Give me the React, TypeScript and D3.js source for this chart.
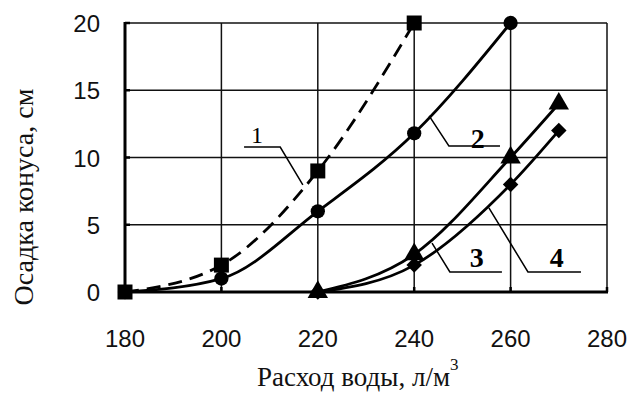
import React, { useEffect, useRef } from "react";
import * as d3 from "d3";

// water consumption, l/m3
const waterX = [180, 200, 220, 240, 260, 270];

// cone slump, cm, per curve
const curve1 = [
  { x: 180, y: 0 },
  { x: 200, y: 2 },
  { x: 220, y: 9 },
  { x: 240, y: 20 },
];
const curve2 = [
  { x: 180, y: 0 },
  { x: 200, y: 1 },
  { x: 220, y: 6 },
  { x: 240, y: 11.8 },
  { x: 260, y: 20 },
];
const curve3 = [
  { x: 220, y: 0 },
  { x: 240, y: 2.8 },
  { x: 260, y: 10 },
  { x: 270, y: 14 },
];
const curve4 = [
  { x: 220, y: 0 },
  { x: 240, y: 2 },
  { x: 260, y: 8 },
  { x: 270, y: 12 },
];

const xTicks = [180, 200, 220, 240, 260, 280];
const yTicks = [0, 5, 10, 15, 20];

// curve labels with leader lines (data units)
const labels = [
  { text: "1", bold: false, at: [207.4, 11.1], leader: [[204.7, 10.78], [212.2, 10.78], [216.9, 7.96]] },
  { text: "2", bold: true, at: [253.2, 10.7], leader: [[243.1, 13.09], [247.2, 10.86], [257.8, 10.86]] },
  { text: "3", bold: true, at: [253.0, 1.86], leader: [[243.7, 3.64], [247.4, 1.49], [258.2, 1.49]] },
  { text: "4", bold: true, at: [269.6, 1.86], leader: [[255.5, 6.25], [263.6, 1.49], [274.6, 1.49]] },
];

interface Pt {
  x: number;
  y: number;
}

const App = () => {
  const margin = { top: 23, right: 20, bottom: 102, left: 125 },
    width = 607 - 125,
    height = 292 - 23;

  const ref = useRef<SVGGElement>(null);

  useEffect(() => {
    const g = d3.select(ref.current);
    g.selectAll("*").remove();

    const x = d3.scaleLinear().domain([180, 280]).range([0, width]);
    const y = d3.scaleLinear().domain([0, 20]).range([height, 0]);

    // grid
    g.selectAll(".vgrid")
      .data(xTicks)
      .enter()
      .append("line")
      .attr("x1", (d) => x(d))
      .attr("x2", (d) => x(d))
      .attr("y1", 0)
      .attr("y2", height)
      .attr("stroke", "#111")
      .attr("stroke-width", 1.5);
    g.selectAll(".hgrid")
      .data(yTicks)
      .enter()
      .append("line")
      .attr("x1", 0)
      .attr("x2", width)
      .attr("y1", (d) => y(d))
      .attr("y2", (d) => y(d))
      .attr("stroke", "#111")
      .attr("stroke-width", 1.5);

    // axes (thick)
    g.append("line")
      .attr("x1", 0).attr("x2", 0)
      .attr("y1", -1).attr("y2", height + 1.5)
      .attr("stroke", "#000").attr("stroke-width", 3);
    g.append("line")
      .attr("x1", -1.5).attr("x2", width + 1)
      .attr("y1", height).attr("y2", height)
      .attr("stroke", "#000").attr("stroke-width", 3);

    // small inward ticks
    g.selectAll(".ytick")
      .data(yTicks)
      .enter()
      .append("line")
      .attr("x1", 0).attr("x2", 5)
      .attr("y1", (d) => y(d)).attr("y2", (d) => y(d))
      .attr("stroke", "#000").attr("stroke-width", 2.5);
    g.selectAll(".xtick")
      .data(xTicks)
      .enter()
      .append("line")
      .attr("x1", (d) => x(d)).attr("x2", (d) => x(d))
      .attr("y1", height).attr("y2", height - 5)
      .attr("stroke", "#000").attr("stroke-width", 2.5);

    // tick labels
    g.selectAll(".xlab")
      .data(xTicks)
      .enter()
      .append("text")
      .attr("x", (d) => x(d))
      .attr("y", height + 55)
      .attr("text-anchor", "middle")
      .attr("font-family", "Liberation Sans, Arial, sans-serif")
      .attr("font-size", 24)
      .attr("fill", "#111")
      .text((d) => d);
    g.selectAll(".ylab")
      .data(yTicks)
      .enter()
      .append("text")
      .attr("x", -25)
      .attr("y", (d) => y(d) + 9)
      .attr("text-anchor", "end")
      .attr("font-family", "Liberation Sans, Arial, sans-serif")
      .attr("font-size", 24)
      .attr("fill", "#111")
      .text((d) => d);

    const line = d3
      .line<Pt>()
      .x((d) => x(d.x))
      .y((d) => y(d.y))
      .curve(d3.curveMonotoneX);

    const series = [
      { data: curve1, dash: "14,8", marker: "square" },
      { data: curve2, dash: null, marker: "circle" },
      { data: curve3, dash: null, marker: "triangle" },
      { data: curve4, dash: null, marker: "diamond" },
    ];

    series.forEach((s) => {
      g.append("path")
        .datum(s.data)
        .attr("fill", "none")
        .attr("stroke", "#000")
        .attr("stroke-width", 2.8)
        .attr("stroke-dasharray", s.dash)
        .attr("d", line);
    });

    const symbols: Record<string, [d3.SymbolType, number, number]> = {
      square: [d3.symbolSquare, 225, 0],
      circle: [d3.symbolCircle, 160, 0],
      triangle: [d3.symbolTriangle, 180, 0],
      diamond: [d3.symbolSquare, 120, 45],
    };

    series.forEach((s) => {
      const [type, size, rot] = symbols[s.marker];
      g.selectAll(null)
        .data(s.data.filter((d) => waterX.includes(d.x)))
        .enter()
        .append("path")
        .attr("d", d3.symbol(type, size)())
        .attr("transform", (d) => `translate(${x(d.x)},${y(d.y)}) rotate(${rot})`)
        .attr("fill", "#000");
    });

    // labels
    labels.forEach((l) => {
      g.append("path")
        .attr("d", d3.line()(l.leader.map(([a, b]) => [x(a), y(b)] as [number, number])))
        .attr("fill", "none")
        .attr("stroke", "#000")
        .attr("stroke-width", 1.5);
      g.append("text")
        .attr("x", x(l.at[0]))
        .attr("y", y(l.at[1]))
        .attr("text-anchor", "middle")
        .attr("font-family", "Liberation Serif, Times New Roman, serif")
        .attr("font-weight", l.bold ? "bold" : "normal")
        .attr("font-size", l.bold ? 28 : 24)
        .text(l.text);
    });
  }, []);

  return (
    <svg width={627} height={394} style={{ display: "block", position: "absolute", left: 0, top: 0 }}>
      <rect width={627} height={394} fill="#fff" />
      <g ref={ref} transform={`translate(${margin.left}, ${margin.top})`} />
      <text
        x={257}
        y={386}
        fontFamily="Liberation Serif, Times New Roman, serif"
        fontSize={27}
        fill="#111"
      >
        Расход воды, л/м<tspan dy={-16} fontSize={17}>3</tspan>
      </text>
      <text
        transform="translate(33,197) rotate(-90)"
        textAnchor="middle"
        fontFamily="Liberation Serif, Times New Roman, serif"
        fontSize={28}
        fill="#111"
      >
        Осадка конуса, см
      </text>
    </svg>
  );
};

export default App;
